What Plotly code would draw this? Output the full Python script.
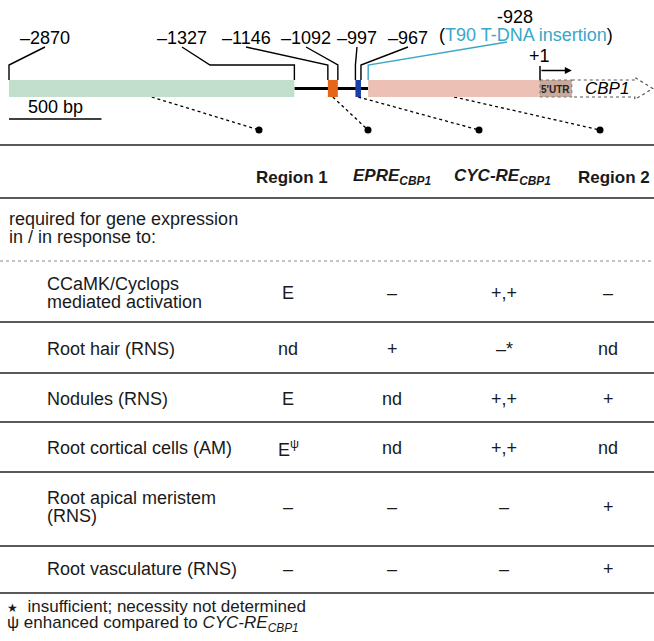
import plotly.graph_objects as go

W, H = 654, 641

# ---------------- data ----------------
site_bp = [-2870, -1327, -1146, -1092, -997, -967]
site_labels = ["–2870", "–1327", "–1146", "–1092", "–997", "–967"]
insertion_bp = -928
insertion_label = "-928"
insertion_note = "T90 T-DNA insertion"
tss_bp = 1
tss_label = "+1"
segment_names = ["Region 1", "EPRE", "CYC-RE", "Region 2"]
segment_start = [-2870, -1146, -997, -928]
segment_end = [-1327, -1092, -967, 1]
utr_label = "5'UTR"
utr_start = 1
utr_end = 173
gene_name = "CBP1"
gene_end = 611
scale_bar_bp = 500

col_headers = [
    "<b>Region 1</b>",
    "<b><i>EPRE</i></b><sub><b><i>CBP1</i></b></sub>",
    "<b><i>CYC-RE</i></b><sub><b><i>CBP1</i></b></sub>",
    "<b>Region 2</b>",
]
intro_lines = ["required for gene expression", "in / in response to:"]
row_labels = [
    ["CCaMK/Cyclops", "mediated activation"],
    ["Root hair (RNS)"],
    ["Nodules (RNS)"],
    ["Root cortical cells (AM)"],
    ["Root apical meristem", "(RNS)"],
    ["Root vasculature (RNS)"],
]
cell_values = [
    ["E", "–", "+,+", "–"],
    ["nd", "+", "–*", "nd"],
    ["E", "nd", "+,+", "+"],
    ["E<sup>ψ</sup>", "nd", "+,+", "nd"],
    ["–", "–", "–", "+"],
    ["–", "–", "–", "+"],
]
footnotes = [
    "<span style='font-size:12px'>★</span>  insufficient; necessity not determined",
    "ψ enhanced compared to <i>CYC-RE</i><sub><i>CBP1</i></sub>",
]

# ---------------- layout helpers ----------------
FONT = "Liberation Sans, Arial, Helvetica, sans-serif"
TXT = "#1a1a1a"
TEAL = "#3aa6c8"
BP_PER_PX = (tss_bp - site_bp[0]) / 531.0
X0 = site_bp[0] - 9 * BP_PER_PX
X1 = X0 + W * BP_PER_PX


def px2bp(px):
    return X0 + px * BP_PER_PX


def pp(px):
    return px / W


seg_colors = ["#c1dfcc", "#e4661a", "#1c3fa5", "#ecc0b4"]
BOX_TOP, BOX_BOT, BACKBONE_Y = 80, 97, 88.5
LABEL_Y, LEAD_Y, KNEE_Y = 38, 47, 65
label_px = [45, 182, 246, 306, 357, 408]
knee_px = [None, 210, None, None, None, None]
dot_px = [259, 368, 479, 600]
DOT_Y = 130

shapes = []
annotations = []


def path(points):
    return "M " + " L ".join(f"{x},{y}" for x, y in points)


# leader lines for site labels
for i, bp in enumerate(site_bp):
    pts = [(px2bp(label_px[i]), LEAD_Y)]
    if knee_px[i] is not None:
        pts.append((px2bp(knee_px[i]), KNEE_Y))
    pts += [(bp, KNEE_Y), (bp, BOX_TOP)]
    shapes.append(dict(type="path", xref="x", yref="y", path=path(pts),
                       line=dict(color="black", width=1.4)))
    annotations.append(dict(x=pp(label_px[i]), xref="paper", y=LABEL_Y, yref="y",
                            text=site_labels[i], showarrow=False,
                            font=dict(family=FONT, size=18, color="black"),
                            xanchor="center", yanchor="middle"))

# insertion leader
shapes.append(dict(type="path", xref="x", yref="y",
                   path=path([(px2bp(507), 42), (insertion_bp, KNEE_Y), (insertion_bp, BOX_TOP)]),
                   line=dict(color=TEAL, width=1.4)))
annotations.append(dict(x=pp(515), xref="paper", y=17, yref="y", text=insertion_label,
                        showarrow=False, font=dict(family=FONT, size=18, color="black"),
                        xanchor="center", yanchor="middle"))
annotations.append(dict(x=pp(526), xref="paper", y=35, yref="y",
                        text=f"(<span style='color:{TEAL}'>{insertion_note}</span>)",
                        showarrow=False, font=dict(family=FONT, size=18, color="black"),
                        xanchor="center", yanchor="middle"))

# backbone
shapes.append(dict(type="line", xref="x", yref="y", x0=segment_end[0], x1=segment_start[3],
                   y0=BACKBONE_Y, y1=BACKBONE_Y, line=dict(color="black", width=3)))

# dotted connectors to table
for i in range(4):
    mid = (segment_start[i] + segment_end[i]) / 2
    shapes.append(dict(type="path", xref="x", yref="y",
                       path=path([(mid, BOX_BOT), (px2bp(dot_px[i]), DOT_Y)]),
                       line=dict(color="black", width=1.3, dash="dot")))

# segments
for i in range(4):
    shapes.append(dict(type="rect", xref="x", yref="y", x0=segment_start[i], x1=segment_end[i],
                       y0=BOX_TOP, y1=BOX_BOT, fillcolor=seg_colors[i], line=dict(width=0)))

# 5'UTR
shapes.append(dict(type="rect", xref="x", yref="y", x0=utr_start, x1=utr_end,
                   y0=BOX_TOP, y1=BOX_BOT, fillcolor="#c9a99a",
                   line=dict(color="#777777", width=1, dash="dot")))
annotations.append(dict(x=(utr_start + utr_end) / 2, xref="x", y=(BOX_TOP + BOX_BOT) / 2 + 0.5,
                        yref="y", text=f"<b>{utr_label}</b>", showarrow=False,
                        font=dict(family=FONT, size=10, color="#222"),
                        xanchor="center", yanchor="middle"))

# gene arrow (dotted outline)
head = gene_end - 18 * BP_PER_PX
shapes.append(dict(type="path", xref="x", yref="y",
                   path=path([(utr_end, BOX_TOP), (head, BOX_TOP), (head, 77.5),
                              (gene_end, BACKBONE_Y), (head, 99.5), (head, BOX_BOT),
                              (utr_end, BOX_BOT)]),
                   line=dict(color="#555555", width=1.2, dash="dot")))
annotations.append(dict(x=(utr_end + head) / 2 + 4 * BP_PER_PX, xref="x", y=BACKBONE_Y, yref="y",
                        text=f"<i>{gene_name}</i>", showarrow=False,
                        font=dict(family=FONT, size=17, color="black"),
                        xanchor="center", yanchor="middle"))

# TSS
shapes.append(dict(type="line", xref="x", yref="y", x0=tss_bp, x1=tss_bp, y0=66, y1=BOX_TOP,
                   line=dict(color="black", width=1.5)))
annotations.append(dict(x=utr_end, y=70.5, xref="x", yref="y", ax=tss_bp, ay=70.5,
                        axref="x", ayref="y", text="", showarrow=True, arrowhead=2,
                        arrowsize=1, arrowwidth=1.4, arrowcolor="black"))
annotations.append(dict(x=pp(539), xref="paper", y=56, yref="y", text=tss_label,
                        showarrow=False, font=dict(family=FONT, size=18, color="black"),
                        xanchor="center", yanchor="middle"))

# scale bar
shapes.append(dict(type="line", xref="x", yref="y", x0=site_bp[0], x1=site_bp[0] + scale_bar_bp,
                   y0=119, y1=119, line=dict(color="black", width=1.5)))
annotations.append(dict(x=site_bp[0] + scale_bar_bp / 2, xref="x", y=107, yref="y",
                        text=f"{scale_bar_bp} bp", showarrow=False,
                        font=dict(family=FONT, size=18, color="black"),
                        xanchor="center", yanchor="middle"))

# ---------------- table ----------------
TOP_LINE = 145
HEADER_Y = 177
HEADER_LINE = 198
INTRO_Y = [219, 237]
DASH_Y = 261
row_line_y = [[284, 302], [349], [399], [448], [498, 516], [569]]
row_val_y = [293, 349, 399, 448, 507, 569]
sep_y = [322, 373, 422, 472, 546, 593]
header_x = [292, 392, 502, 614]
value_x = [288, 392, 504, 608]
ROW_X = 45
LEFT_X = 7
FS = 18

for yy in [TOP_LINE, HEADER_LINE] + sep_y:
    shapes.append(dict(type="line", xref="paper", yref="y", x0=0, x1=1, y0=yy, y1=yy,
                       line=dict(color="#222222", width=1.4)))
shapes.append(dict(type="line", xref="paper", yref="y", x0=0, x1=1, y0=DASH_Y, y1=DASH_Y,
                   line=dict(color="#8a8a8a", width=1, dash="dot")))

for j, h in enumerate(col_headers):
    annotations.append(dict(x=pp(header_x[j]), xref="paper", y=HEADER_Y, yref="y", text=h,
                            showarrow=False, font=dict(family=FONT, size=17, color=TXT),
                            xanchor="center", yanchor="middle"))

for k, line in enumerate(intro_lines):
    annotations.append(dict(x=pp(LEFT_X), xref="paper", y=INTRO_Y[k], yref="y", text=line,
                            showarrow=False, font=dict(family=FONT, size=FS, color=TXT),
                            xanchor="left", yanchor="middle"))

for r, lines in enumerate(row_labels):
    for k, line in enumerate(lines):
        annotations.append(dict(x=pp(ROW_X), xref="paper", y=row_line_y[r][k], yref="y",
                                text=line, showarrow=False,
                                font=dict(family=FONT, size=FS, color=TXT),
                                xanchor="left", yanchor="middle"))
    for c, v in enumerate(cell_values[r]):
        annotations.append(dict(x=pp(value_x[c]), xref="paper", y=row_val_y[r], yref="y",
                                text=v, showarrow=False,
                                font=dict(family=FONT, size=FS, color=TXT),
                                xanchor="center", yanchor="middle"))

for k, fn in enumerate(footnotes):
    annotations.append(dict(x=pp(LEFT_X - 2), xref="paper", y=[606, 624][k], yref="y", text=fn,
                            showarrow=False, font=dict(family=FONT, size=17, color=TXT),
                            xanchor="left", yanchor="middle"))

fig = go.Figure()
fig.add_trace(go.Scatter(x=[px2bp(p) for p in dot_px], y=[DOT_Y] * 4, mode="markers",
                         marker=dict(color="black", size=7), hoverinfo="skip",
                         showlegend=False))
fig.update_layout(
    width=W, height=H, margin=dict(l=0, r=0, t=0, b=0),
    paper_bgcolor="white", plot_bgcolor="white",
    xaxis=dict(range=[X0, X1], visible=False, fixedrange=True),
    yaxis=dict(range=[H, 0], visible=False, fixedrange=True),
    shapes=shapes, annotations=annotations, showlegend=False,
)
fig.write_html("out.html", config={"displayModeBar": False},
               post_script="document.body.style.margin='0px';document.body.style.overflow='hidden';")
